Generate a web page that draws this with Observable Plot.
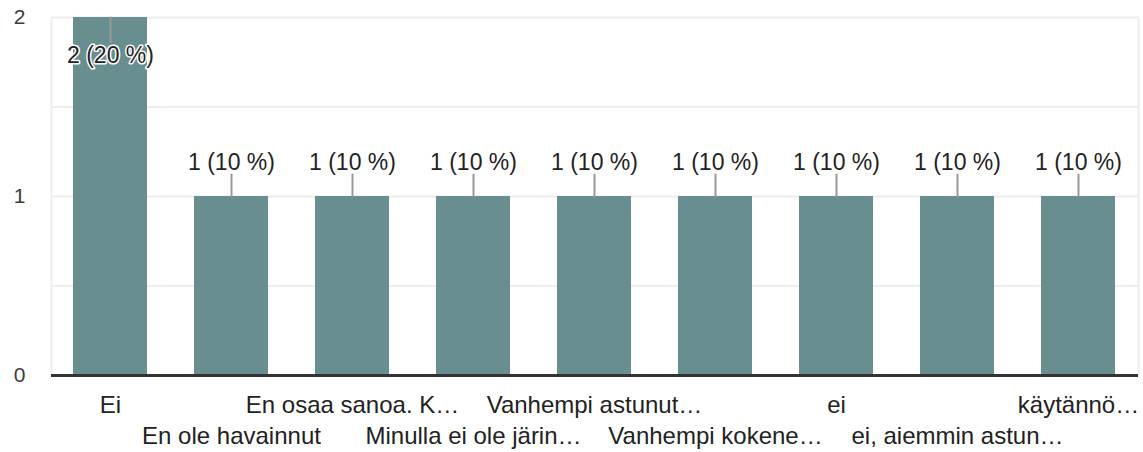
<!DOCTYPE html>
<html><head><meta charset="utf-8">
<script src="https://cdn.jsdelivr.net/npm/d3@7"></script>
<script src="https://cdn.jsdelivr.net/npm/@observablehq/plot@0.6"></script>
<style>
body{margin:0;background:#fff;}
#chart svg{display:block;}
</style>
</head><body><div id="chart"></div>
<script>
const categories = ["Ei","En ole havainnut","En osaa sanoa. K…","Minulla ei ole järin…","Vanhempi astunut…","Vanhempi kokene…","ei","ei, aiemmin astun…","käytännö…"];
const counts = [2,1,1,1,1,1,1,1,1];
const percents = [20,10,10,10,10,10,10,10,10];
const yTicks = [0,1,2];
const yGrid = [0,0.5,1,1.5,2];

const rows = categories.map((c,i)=>({cat:c, n:counts[i], pct:percents[i], label:`${counts[i]} (${percents[i]} %)`, idx:i}));
const maxN = d3.max(counts);
const topRows = rows.filter(d=>d.n===maxN);
const restRows = rows.filter(d=>d.n!==maxN);
const evenCats = categories.filter((c,i)=>i%2===0);
const oddCats = categories.filter((c,i)=>i%2===1);
const lineShape = {draw(ctx, l){ ctx.moveTo(0,0); ctx.lineTo(0,-l); }};

const chart = Plot.plot({
  width:1143, height:452,
  marginLeft:51, marginRight:5, marginTop:17, marginBottom:77,
  style:{fontFamily:"'Liberation Sans', Arial, sans-serif", background:"#fff"},
  x:{domain:categories, paddingInner:0.385, paddingOuter:0.18, axis:null},
  y:{domain:[0,2], axis:null},
  marks:[
    Plot.gridY(yGrid, {stroke:"#ededed", strokeOpacity:1, strokeWidth:2}),
    Plot.frame({stroke:"#ededed", strokeWidth:2, anchor:"left"}),
    Plot.frame({stroke:"#ededed", strokeWidth:2, anchor:"right"}),
    Plot.barY(rows, {x:"cat", y:"n", fill:"#688e8f"}),
    Plot.ruleY([0], {stroke:"#333", strokeWidth:3}),
    Plot.text(yTicks, {y:d=>d, text:d=>String(d), frameAnchor:"left", dx:-26, textAnchor:"end", fontSize:21, fill:"#3c3c3c"}),
    Plot.axisX({ticks:evenCats, tickSize:0, tickPadding:20, fontSize:24, fill:"#222", label:null, tickFormat:d=>d}),
    Plot.axisX({ticks:oddCats, tickSize:0, tickPadding:51, fontSize:24, fill:"#222", label:null, tickFormat:d=>d}),
    Plot.vector(restRows, {x:"cat", y:"n", length:22, rotate:0, anchor:"start", shape:lineShape, stroke:"#999", strokeWidth:2}),
    Plot.vector(topRows, {x:"cat", y:"n", length:25, rotate:180, anchor:"start", shape:lineShape, stroke:"#999", strokeWidth:2}),
    Plot.text(restRows, {x:"cat", y:"n", text:"label", dy:-34, fontSize:23, fill:"#222"}),
    Plot.text(topRows, {x:"cat", y:"n", text:"label", dy:38, fontSize:23, fill:"#222", stroke:"#fff", strokeWidth:3})
  ]
});
document.getElementById("chart").appendChild(chart);
</script>
</body></html>
